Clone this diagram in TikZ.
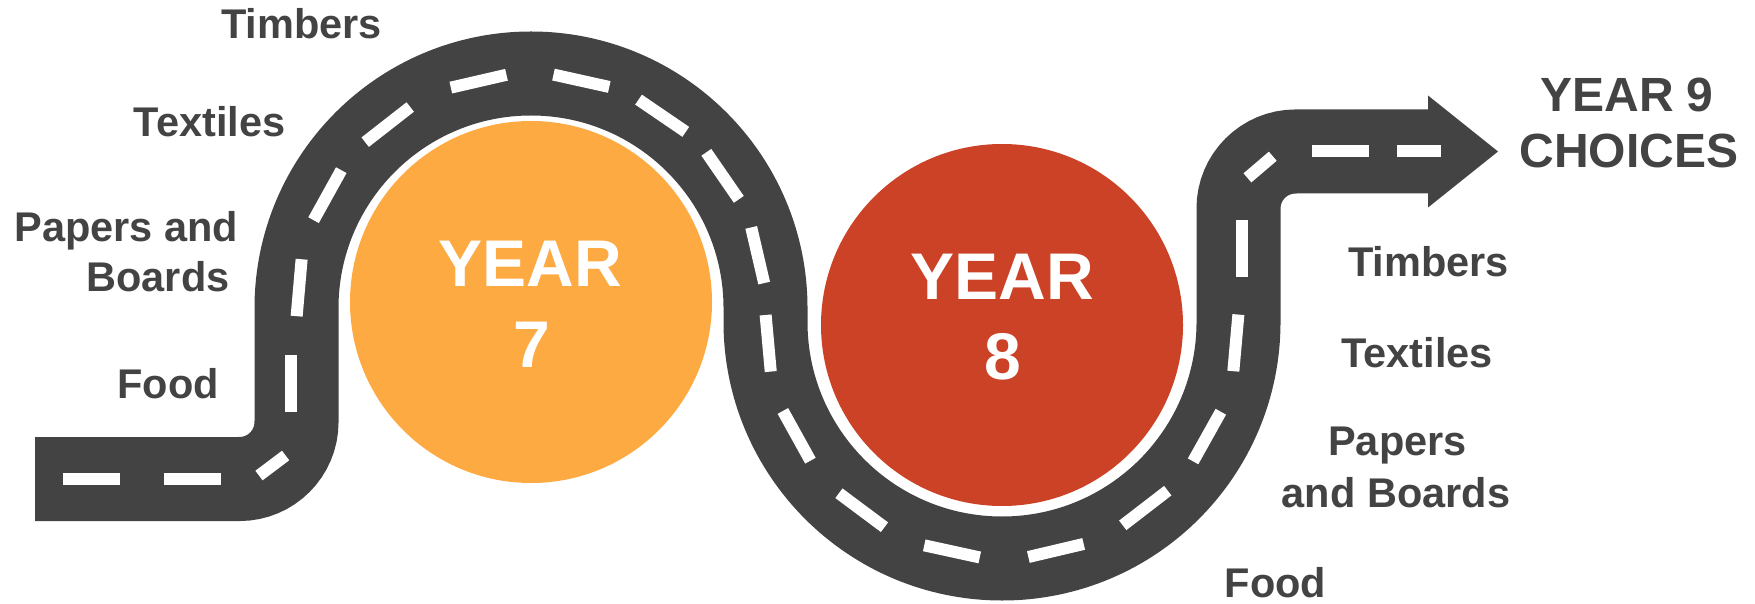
\documentclass[tikz,border=0pt]{standalone}
\usepackage{fontspec}
\setmainfont{Liberation Sans}
\definecolor{roadgrey}{HTML}{434343}
\definecolor{yearseven}{HTML}{FDAA43}
\definecolor{yeareight}{HTML}{CB4227}
\begin{document}
\begin{tikzpicture}[x=1pt,y=1pt,
   road/.style={draw=roadgrey, line width=84pt},
   lane/.style={draw=white, line width=12pt},
   subject/.style={text=roadgrey, font=\fontsize{41.5}{50}\selectfont\bfseries, inner sep=0pt, anchor=base},
   goal/.style={text=roadgrey, font=\fontsize{48}{56}\selectfont\bfseries, inner sep=0pt, anchor=base},
   year/.style={text=white, font=\fontsize{66}{80}\selectfont\bfseries, inner sep=0pt, anchor=base}]
   \useasboundingbox (0,0) rectangle (1755,603);
   \fill[yearseven] (531,301) circle (181);
   \fill[yeareight] (1002,278) circle (181);
   \draw[road] (35,124) -- (239.5,124) arc[start angle=-90, end angle=0, radius=57]
      -- (296.5,295) arc[start angle=180, end angle=0, radius=234.5]
      -- (765.5,281) arc[start angle=180, end angle=360, radius=236.5]
      -- (1238.5,394.5) arc[start angle=180, end angle=90, radius=57] -- (1430,451.5);
   \fill[roadgrey] (1428,507.5) -- (1498,451.5) -- (1428,395.5) -- cycle;
   \foreach \x in {63,164}
      \draw[lane] (\x,124) -- ++(57,0);
   \draw[lane] ([shift={(-70:57)}]239.5,181) -- ([shift={(-36:57)}]239.5,181);
   \draw[lane] (291,191) -- (291,248);
   \foreach \a in {175,151,128,103,77.5,55.7,34.6,13.1}
      \draw[lane] ([shift={(\a+7:234.5)}]531,295) -- ([shift={(\a-7:234.5)}]531,295);
   \foreach \a in {185.2,209,233.3,257.7,283.3,307.6,330.8,354.9}
      \draw[lane] ([shift={(\a-6.9:236.5)}]1002,281) -- ([shift={(\a+6.9:236.5)}]1002,281);
   \draw[lane] (1242,326) -- (1242,383);
   \draw[lane] ([shift={(147.5:57)}]1295.5,394.5) -- ([shift={(113.5:57)}]1295.5,394.5);
   \foreach \x/\l in {1312/57,1397/44}
      \draw[lane] (\x,451.5) -- ++(\l,0);
   \node[year] (seven) at (530,316) {YEAR};
   \node[year] (sevennum) at (532,236) {7};
   \node[year] (eight) at (1002,303) {YEAR};
   \node[year] (eightnum) at (1003,224) {8};
   \node[subject] (timbersL) at (301.5,564) {Timbers};
   \node[subject] (textilesL) at (209.5,466) {Textiles};
   \node[subject] (papersL) at (126.5,361) {Papers and};
   \node[subject] (boardsL) at (158,311) {Boards};
   \node[subject] (foodL) at (168,205) {Food};
   \node[goal] (yearnine) at (1627,491) {YEAR 9};
   \node[goal] (choices) at (1629,435) {CHOICES};
   \node[subject] (timbersR) at (1428.5,326) {Timbers};
   \node[subject] (textilesR) at (1417,236) {Textiles};
   \node[subject] (papersR) at (1397.5,148) {Papers};
   \node[subject] (boardsR) at (1396,96) {and Boards};
   \node[subject] (foodR) at (1275.5,6) {Food};
\end{tikzpicture}
\end{document}
